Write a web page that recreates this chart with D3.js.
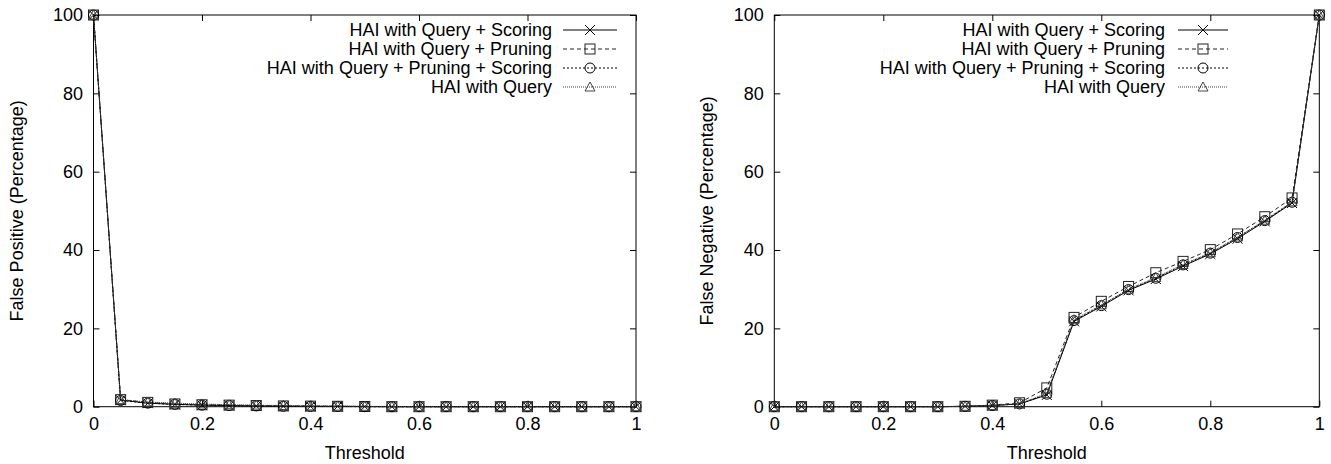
<!DOCTYPE html>
<html>
<head>
<meta charset="utf-8">
<script src="https://cdn.jsdelivr.net/npm/d3@7"></script>
<style>
  html, body { margin: 0; padding: 0; background: #fff; }
  svg text { font-family: "Liberation Sans", Arial, Helvetica, sans-serif; fill: #000; }
</style>
</head>
<body>
<svg id="chart" width="1331" height="464"></svg>
<script>
// ---- data ----
const thresholds = [0, 0.05, 0.1, 0.15, 0.2, 0.25, 0.3, 0.35, 0.4, 0.45, 0.5, 0.55, 0.6, 0.65, 0.7, 0.75, 0.8, 0.85, 0.9, 0.95, 1];
const xTicks = [0, 0.2, 0.4, 0.6, 0.8, 1];
const yTicks = [0, 20, 40, 60, 80, 100];
const seriesNames = ["HAI with Query + Scoring", "HAI with Query + Pruning", "HAI with Query + Pruning + Scoring", "HAI with Query"];

const fpScoring      = [100, 1.7, 0.9, 0.6, 0.4, 0.3, 0.2, 0.15, 0.1, 0.1, 0.05, 0, 0, 0, 0, 0, 0, 0, 0, 0, 0];
const fpPruning      = [100, 1.8, 1.1, 0.7, 0.5, 0.4, 0.3, 0.2, 0.15, 0.1, 0.05, 0, 0, 0, 0, 0, 0, 0, 0, 0, 0];
const fpPrunScoring  = [100, 1.6, 0.9, 0.6, 0.4, 0.3, 0.2, 0.1, 0.1, 0.05, 0, 0, 0, 0, 0, 0, 0, 0, 0, 0, 0];
const fpQuery        = [100, 1.8, 1.2, 0.9, 0.7, 0.5, 0.4, 0.3, 0.2, 0.15, 0.1, 0.05, 0, 0, 0, 0, 0, 0, 0, 0, 0];

const fnScoring      = [0, 0, 0, 0, 0, 0, 0, 0.1, 0.3, 0.7, 3.0, 21.8, 25.6, 29.7, 32.6, 35.9, 39.0, 42.9, 47.3, 52.0, 100];
const fnPruning      = [0, 0, 0, 0, 0, 0, 0, 0.1, 0.4, 1.0, 4.8, 22.8, 26.9, 30.7, 34.2, 37.1, 40.1, 44.1, 48.5, 53.3, 100];
const fnPrunScoring  = [0, 0, 0, 0, 0, 0, 0, 0.1, 0.3, 0.7, 3.2, 22.0, 25.8, 29.9, 32.8, 36.2, 39.2, 43.2, 47.5, 52.2, 100];
const fnQuery        = [0, 0, 0, 0, 0, 0, 0, 0.1, 0.3, 0.8, 3.4, 22.2, 26.0, 30.0, 33.0, 36.3, 39.3, 43.3, 47.6, 52.3, 100];

// ---- styles ----
const FONT = 18;
const styles = [
  { dash: null,  color: "#000", marker: "cross" },
  { dash: "4,3", color: "#222", marker: "square" },
  { dash: "2,2", color: "#000", marker: "circle" },
  { dash: "1,1", color: "#444", marker: "triangle" }
];

const svg = d3.select("#chart");

function drawMarker(g, type, x, y, color) {
  const s = 5;
  if (type === "cross") {
    g.append("path").attr("d", `M${x-s},${y-s}L${x+s},${y+s}M${x-s},${y+s}L${x+s},${y-s}`)
      .attr("stroke", color).attr("stroke-width", 1).attr("fill", "none");
  } else if (type === "square") {
    g.append("rect").attr("x", x-s).attr("y", y-s).attr("width", 2*s).attr("height", 2*s)
      .attr("stroke", color).attr("stroke-width", 1).attr("fill", "none");
  } else if (type === "circle") {
    g.append("circle").attr("cx", x).attr("cy", y).attr("r", s)
      .attr("stroke", color).attr("stroke-width", 1).attr("fill", "none");
  } else {
    g.append("path").attr("d", `M${x},${y-s}L${x+s},${y+s*0.8}L${x-s},${y+s*0.8}Z`)
      .attr("stroke", color).attr("stroke-width", 1).attr("fill", "none");
  }
}

function panel(opts) {
  const { x0, x1, yTop, yBot, series, yLabel, yLabelX, legendRight, legendSampleX0, legendSampleX1 } = opts;
  const x = d3.scaleLinear().domain([0, 1]).range([x0, x1]);
  const y = d3.scaleLinear().domain([0, 100]).range([yBot, yTop]);
  const g = svg.append("g");

  // mirrored inward ticks
  const bottom = g.append("g").attr("transform", `translate(0,${yBot})`)
    .call(d3.axisBottom(x).tickValues(xTicks).tickSize(-6).tickPadding(11).tickFormat(d3.format("")));
  const top = g.append("g").attr("transform", `translate(0,${yTop})`)
    .call(d3.axisTop(x).tickValues(xTicks).tickSize(-6).tickFormat(""));
  const left = g.append("g").attr("transform", `translate(${x0},0)`)
    .call(d3.axisLeft(y).tickValues(yTicks).tickSize(-6).tickPadding(10.5));
  const right = g.append("g").attr("transform", `translate(${x1},0)`)
    .call(d3.axisRight(y).tickValues(yTicks).tickSize(-6).tickFormat(""));
  [bottom, top, left, right].forEach(a => {
    a.select(".domain").remove();
    a.selectAll("line").attr("stroke", "#000");
    a.selectAll("text").attr("font-size", FONT).attr("font-family", '"Liberation Sans", Arial, sans-serif').attr("fill", "#000");
  });

  // frame
  g.append("rect").attr("x", x0).attr("y", yTop).attr("width", x1 - x0).attr("height", yBot - yTop)
    .attr("fill", "none").attr("stroke", "#000").attr("stroke-width", 1);

  // axis labels
  g.append("text").attr("x", (x0 + x1) / 2).attr("y", 459).attr("text-anchor", "middle")
    .attr("font-size", FONT).text("Threshold");
  g.append("text").attr("transform", `translate(${yLabelX},${(yTop + yBot) / 2}) rotate(-90)`)
    .attr("text-anchor", "middle").attr("dy", "0.35em").attr("font-size", FONT).text(yLabel);

  // series
  const line = d3.line().x((d, i) => x(thresholds[i])).y(d => y(d));
  series.forEach((vals, k) => {
    const st = styles[k];
    g.append("path").datum(vals).attr("d", line).attr("fill", "none")
      .attr("stroke", st.color).attr("stroke-width", 1)
      .attr("stroke-dasharray", st.dash);
    const mg = g.append("g");
    vals.forEach((v, i) => drawMarker(mg, st.marker, x(thresholds[i]), y(v), st.color));
  });

  // legend
  seriesNames.forEach((name, k) => {
    const st = styles[k];
    const ly = 30 + k * 19;
    g.append("text").attr("x", legendRight).attr("y", ly).attr("dy", "0.35em")
      .attr("text-anchor", "end").attr("font-size", FONT).text(name);
    g.append("line").attr("x1", legendSampleX0).attr("x2", legendSampleX1).attr("y1", ly).attr("y2", ly)
      .attr("stroke", st.color).attr("stroke-width", 1).attr("stroke-dasharray", st.dash);
    drawMarker(g, st.marker, (legendSampleX0 + legendSampleX1) / 2, ly, st.color);
  });
}

panel({ x0: 93.5, x1: 636, yTop: 15, yBot: 406.7,
  series: [fpScoring, fpPruning, fpPrunScoring, fpQuery],
  yLabel: "False Positive (Percentage)", yLabelX: 17,
  legendRight: 552, legendSampleX0: 563, legendSampleX1: 617 });

panel({ x0: 774.3, x1: 1319.3, yTop: 15, yBot: 406.7,
  series: [fnScoring, fnPruning, fnPrunScoring, fnQuery],
  yLabel: "False Negative (Percentage)", yLabelX: 707,
  legendRight: 1165, legendSampleX0: 1178, legendSampleX1: 1228 });
</script>
</body>
</html>
